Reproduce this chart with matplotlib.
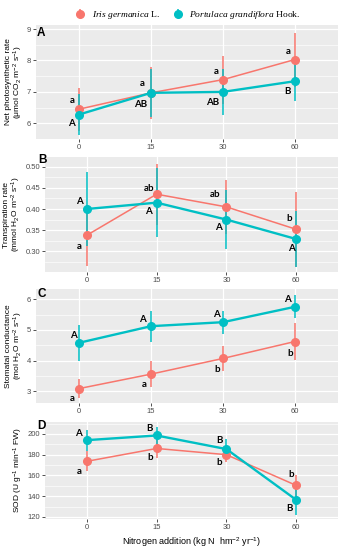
import matplotlib
matplotlib.use("Agg")
import matplotlib.pyplot as plt
import numpy as np

# ---------------- data ----------------
nitrogen = ["0", "15", "30", "60"]
species = ["Iris germanica L.", "Portulaca grandiflora Hook."]

iris_A = [6.45, 6.97, 7.39, 8.03]
iris_A_err = [0.68, 0.82, 0.76, 0.86]
port_A = [6.28, 6.97, 7.00, 7.34]
port_A_err = [0.65, 0.77, 0.73, 0.62]
iris_A_lab = ["a", "a", "a", "a"]
port_A_lab = ["A", "AB", "AB", "B"]

iris_B = [0.338, 0.435, 0.405, 0.352]
iris_B_err = [0.072, 0.072, 0.063, 0.088]
port_B = [0.400, 0.415, 0.375, 0.329]
port_B_err = [0.087, 0.081, 0.070, 0.066]
iris_B_lab = ["a", "ab", "ab", "b"]
port_B_lab = ["A", "A", "A", "A"]

iris_C = [3.09, 3.56, 4.07, 4.62]
iris_C_err = [0.30, 0.42, 0.41, 0.60]
port_C = [4.58, 5.12, 5.25, 5.75]
port_C_err = [0.58, 0.51, 0.37, 0.37]
iris_C_lab = ["a", "a", "b", "b"]
port_C_lab = ["A", "A", "A", "A"]

iris_D = [173.6, 186.0, 180.0, 150.4]
iris_D_err = [9.5, 9.0, 7.5, 10.0]
port_D = [194.0, 198.5, 185.4, 136.5]
port_D_err = [10.0, 8.5, 10.0, 14.5]
iris_D_lab = ["a", "b", "b", "b"]
port_D_lab = ["A", "B", "B", "B"]

# ---------------- style ----------------
W, H = 349, 550
DPI = 100
RED = "#F8766D"
TEAL = "#00BFC4"
PANEL = "#EBEBEB"
plt.rcParams["font.family"] = ["Liberation Sans", "DejaVu Sans"]
plt.rcParams["mathtext.fontset"] = "custom"
plt.rcParams["mathtext.rm"] = "Liberation Sans"
plt.rcParams["mathtext.it"] = "Liberation Sans:italic"

fig = plt.figure(figsize=(W / DPI, H / DPI), dpi=DPI)


def px_axes(left, right, top, bottom):
    return fig.add_axes([left / W, 1 - bottom / H, (right - left) / W, (bottom - top) / H])


panels = [
    dict(box=(36, 338, 25, 139), ylim=(5.53, 9.13), yticks=[6, 7, 8, 9], minor=[5.5, 6.5, 7.5, 8.5],
         fmt="{:g}", iris=(iris_A, iris_A_err, iris_A_lab), port=(port_A, port_A_err, port_A_lab),
         letter="A", letter_pos=(37, 27),
         ylab="Net photosynthetic rate\n(μmol CO$_2$ m$^{-2}$ s$^{-1}$)", ylab_x=15,
         offs_i=[(-7, 9), (-9, 9), (-7, 8), (-7, 8)], offs_p=[(-8, -9), (-10, -12), (-10, -11), (-7, -10)]),
    dict(box=(45, 338, 157, 272), ylim=(0.251, 0.523), yticks=[0.30, 0.35, 0.40, 0.45, 0.50],
         minor=[0.275, 0.325, 0.375, 0.425, 0.475], fmt="{:.2f}",
         iris=(iris_B, iris_B_err, iris_B_lab), port=(port_B, port_B_err, port_B_lab),
         letter="B", letter_pos=(38, 154),
         ylab="Transpiration rate\n(mmol H$_2$O m$^{-2}$ s$^{-1}$)", ylab_x=13,
         offs_i=[(-8, -11), (-8, 6), (-11, 12), (-7, 11)], offs_p=[(-7, 8), (-8, -9), (-8, -8), (-5, -9)]),
    dict(box=(36, 338, 289, 403), ylim=(2.62, 6.33), yticks=[3, 4, 5, 6], minor=[3.5, 4.5, 5.5],
         fmt="{:g}", iris=(iris_C, iris_C_err, iris_C_lab), port=(port_C, port_C_err, port_C_lab),
         letter="C", letter_pos=(37, 288),
         ylab="Stomatal conductance\n(mol H$_2$O m$^{-2}$ s$^{-1}$)", ylab_x=15,
         offs_i=[(-7, -10), (-7, -10), (-6, -11), (-5, -12)], offs_p=[(-6, 7), (-9, 7), (-7, 8), (-7, 7)]),
    dict(box=(45, 338, 422, 519), ylim=(118, 211.5), yticks=[120, 140, 160, 180, 200],
         minor=[130, 150, 170, 190, 210], fmt="{:g}",
         iris=(iris_D, iris_D_err, iris_D_lab), port=(port_D, port_D_err, port_D_lab),
         letter="D", letter_pos=(37, 420),
         ylab="SOD (U g$^{-1}$ min$^{-1}$ FW)", ylab_x=18,
         offs_i=[(-8, -10), (-6, -9), (-7, -8), (-5, 11)], offs_p=[(-8, 7), (-7, 7), (-7, 9), (-7, -9)]),
]

x = np.arange(len(nitrogen))
handles = None
for p in panels:
    ax = px_axes(*p["box"])
    ax.set_facecolor(PANEL)
    for s in ax.spines.values():
        s.set_visible(False)
    ax.set_xlim(-0.6, 3.6)
    ax.set_ylim(*p["ylim"])
    ax.set_xticks(x)
    ax.set_xticklabels(nitrogen)
    ax.set_yticks(p["yticks"])
    ax.set_yticklabels([p["fmt"].format(v) for v in p["yticks"]])
    ax.set_yticks(p["minor"], minor=True)
    ax.tick_params(axis="both", which="major", length=2, width=0.6, color="#333333",
                   labelsize=5.5, labelcolor="#4D4D4D", pad=1.5)
    ax.tick_params(axis="y", which="minor", length=0)
    ax.grid(True, which="major", color="white", linewidth=0.9)
    ax.grid(True, which="minor", axis="y", color="white", linewidth=0.45)
    ax.set_axisbelow(True)

    hs = []
    for (vals, err, labs), col, lw, offs in [(p["iris"], RED, 1.1, p["offs_i"]),
                                             (p["port"], TEAL, 1.7, p["offs_p"])]:
        ax.plot(x, vals, color=col, lw=lw, zorder=3)
        h = ax.errorbar(x, vals, yerr=err, fmt="o", color=col, ecolor=col, elinewidth=1.1,
                        markersize=5.5, capsize=0, zorder=4)
        hs.append(h)
        for xi, v, lab, off in zip(x, vals, labs, offs):
            ax.annotate(lab, (xi, v), xytext=off, textcoords="offset pixels", ha="center",
                        va="center", fontsize=7, fontweight="bold", family=["Lato", "DejaVu Sans"],
                        color="black", zorder=5)
    if handles is None:
        handles = hs

    fig.text(p["letter_pos"][0] / W, 1 - p["letter_pos"][1] / H, p["letter"], fontsize=8.5,
             fontweight="bold", ha="left", va="top")
    cy = (p["box"][2] + p["box"][3]) / 2
    fig.text(p["ylab_x"] / W, 1 - cy / H, p["ylab"], rotation=90, ha="center", va="center",
             fontsize=6.0, linespacing=1.0)

    last_ax = ax

last_ax.set_xlabel("Nitrogen addition (kg N  hm$^{-2}$ yr$^{-1}$)", fontsize=6.5, labelpad=3)

# legend
plt.rcParams["mathtext.it"] = "Liberation Serif:italic"
leg_labels = ["$\\mathit{Iris\\ germanica}$ L.", "$\\mathit{Portulaca\\ grandiflora}$ Hook."]
leg = fig.legend(handles, leg_labels, loc="center", bbox_to_anchor=(187 / W, 1 - 15 / H), ncol=2,
                 frameon=False, prop={"family": "Liberation Serif", "size": 6.8},
                 handlelength=1.4, columnspacing=1.2, handletextpad=0.5)

fig.savefig("out.png", dpi=DPI)
